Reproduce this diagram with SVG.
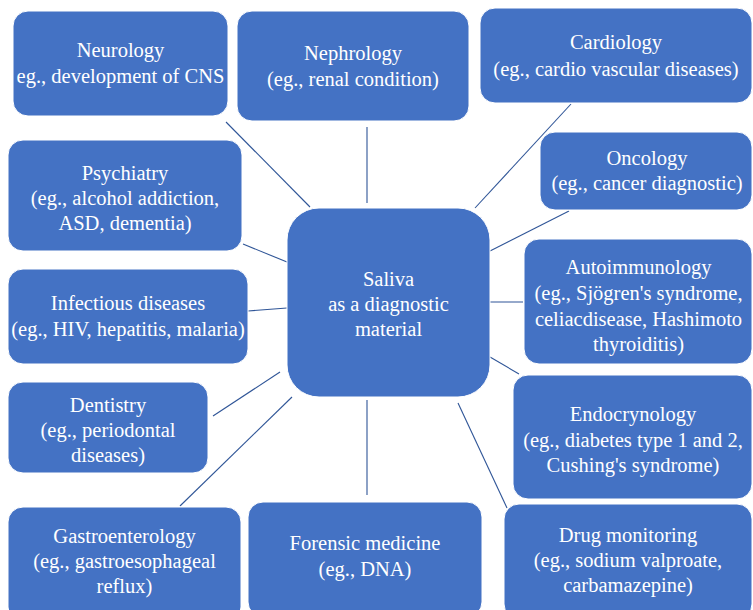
<svg xmlns="http://www.w3.org/2000/svg" width="753" height="610" viewBox="0 0 753 610">
<style>
.box{fill:#4472C4;stroke:#ffffff;stroke-width:1}
.c{stroke:#2F5597;stroke-width:1.1;fill:none}
</style>
<rect width="753" height="610" fill="#ffffff"/>
<g id="connectors">
<line class="c" x1="226" y1="122" x2="310" y2="207"/>
<line class="c" x1="367" y1="127" x2="367" y2="203"/>
<line class="c" x1="571" y1="104" x2="475" y2="208"/>
<line class="c" x1="569" y1="211" x2="490" y2="251"/>
<line class="c" x1="490" y1="302" x2="523" y2="302"/>
<line class="c" x1="490" y1="357" x2="519" y2="374"/>
<line class="c" x1="458" y1="403" x2="507" y2="508"/>
<line class="c" x1="367" y1="400" x2="367" y2="495"/>
<line class="c" x1="292" y1="397" x2="180" y2="506"/>
<line class="c" x1="280" y1="372" x2="213" y2="416"/>
<line class="c" x1="248" y1="311" x2="287" y2="308"/>
<line class="c" x1="243" y1="244" x2="287" y2="262"/>
</g>
<g font-family="Liberation Serif, serif" font-size="20.5" fill="#ffffff" text-anchor="middle">
<g id="center">
<rect class="box" x="287" y="208" width="203" height="189" rx="32"/>
<text x="388.5" y="286">Saliva</text>
<text x="388.5" y="311">as a diagnostic</text>
<text x="388.5" y="336">material</text>
</g>
<g id="neurology">
<rect class="box" x="13" y="11" width="215" height="105" rx="15"/>
<text x="120.5" y="57">Neurology</text>
<text x="120.5" y="83">eg., development of CNS</text>
</g>
<g id="nephrology">
<rect class="box" x="237" y="11" width="232" height="110" rx="15"/>
<text x="353" y="60">Nephrology</text>
<text x="353" y="86">(eg., renal condition)</text>
</g>
<g id="cardiology">
<rect class="box" x="480" y="8" width="272" height="95" rx="15"/>
<text x="616" y="49">Cardiology</text>
<text x="616" y="76">(eg., cardio vascular diseases)</text>
</g>
<g id="oncology">
<rect class="box" x="540" y="132" width="212" height="78" rx="15"/>
<text x="647" y="165">Oncology</text>
<text x="647" y="190">(eg., cancer diagnostic)</text>
</g>
<g id="autoimmunology">
<rect class="box" x="524" y="239" width="228" height="125" rx="15"/>
<text x="638.5" y="274">Autoimmunology</text>
<text x="638.5" y="300">(eg., Sj&#246;gren's syndrome,</text>
<text x="638.5" y="326">celiacdisease, Hashimoto</text>
<text x="638.5" y="351">thyroiditis)</text>
</g>
<g id="endocrynology">
<rect class="box" x="513" y="375" width="239" height="124" rx="15"/>
<text x="633" y="421">Endocrynology</text>
<text x="633" y="447">(eg., diabetes type 1 and 2,</text>
<text x="633" y="472">Cushing's syndrome)</text>
</g>
<g id="drug-monitoring">
<rect class="box" x="504" y="504" width="248" height="115" rx="15"/>
<text x="628" y="542">Drug monitoring</text>
<text x="628" y="567">(eg., sodium valproate,</text>
<text x="628" y="592">carbamazepine)</text>
</g>
<g id="forensic">
<rect class="box" x="248" y="502" width="234" height="115" rx="15"/>
<text x="365" y="550">Forensic medicine</text>
<text x="365" y="576">(eg., DNA)</text>
</g>
<g id="gastroenterology">
<rect class="box" x="8" y="507" width="233" height="115" rx="15"/>
<text x="124.5" y="543">Gastroenterology</text>
<text x="124.5" y="568">(eg., gastroesophageal</text>
<text x="124.5" y="593">reflux)</text>
</g>
<g id="dentistry">
<rect class="box" x="8" y="382" width="200" height="91" rx="15"/>
<text x="108" y="412">Dentistry</text>
<text x="108" y="437">(eg., periodontal</text>
<text x="108" y="462">diseases)</text>
</g>
<g id="infectious">
<rect class="box" x="8" y="269" width="240" height="95" rx="15"/>
<text x="128" y="310">Infectious diseases</text>
<text x="128" y="336">(eg., HIV, hepatitis, malaria)</text>
</g>
<g id="psychiatry">
<rect class="box" x="8" y="140" width="234" height="111" rx="15"/>
<text x="125" y="180">Psychiatry</text>
<text x="125" y="205">(eg., alcohol addiction,</text>
<text x="125" y="230">ASD, dementia)</text>
</g>
</g>
</svg>
